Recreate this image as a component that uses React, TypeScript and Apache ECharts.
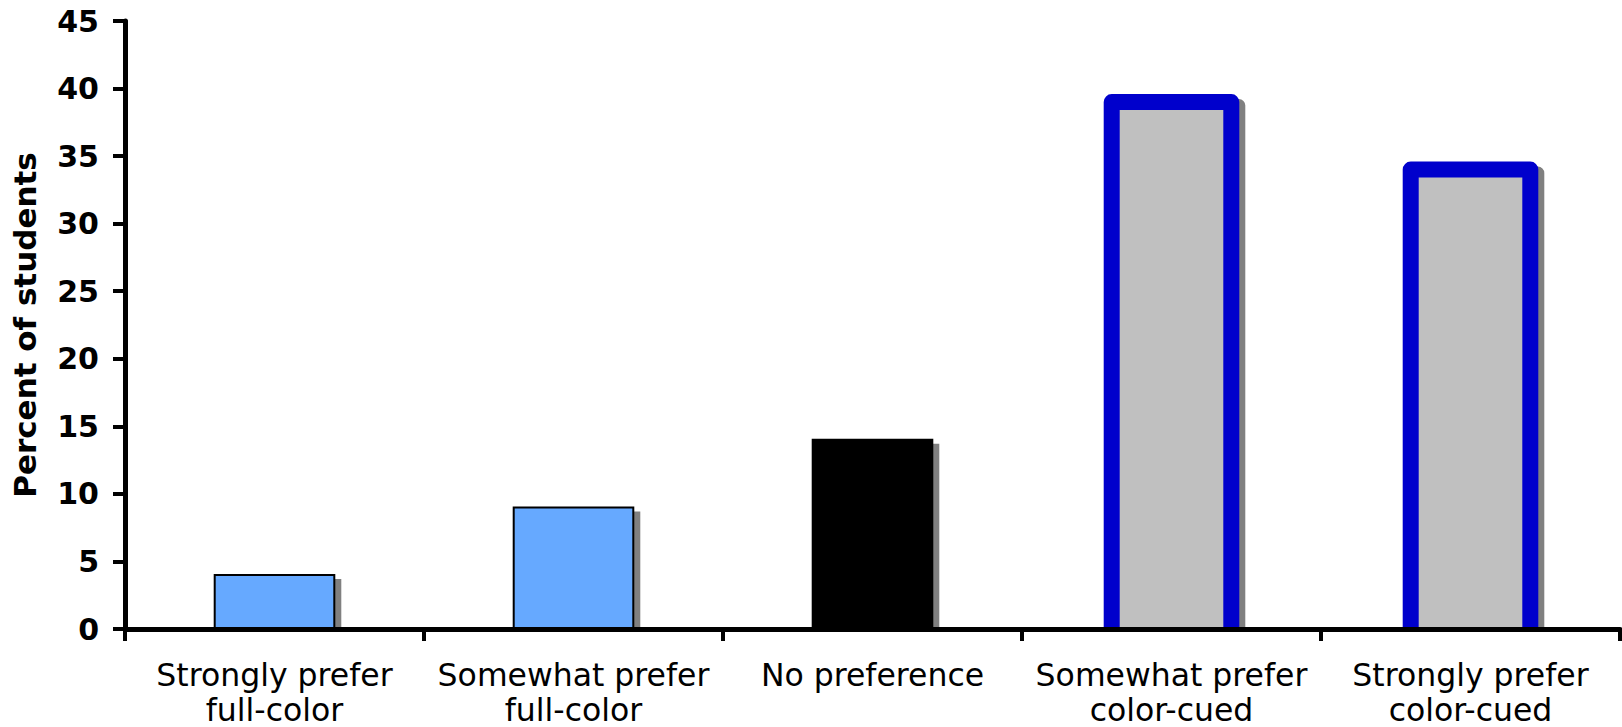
import React, { useEffect, useRef } from "react";
import * as echarts from "echarts";

const categories = [
  "Strongly prefer\nfull-color",
  "Somewhat prefer\nfull-color",
  "No preference",
  "Somewhat prefer\ncolor-cued",
  "Strongly prefer\ncolor-cued",
];
const values = [4, 9, 14, 39, 34];
const yTicks = { min: 0, max: 45, interval: 5 };
const yAxisTitle = "Percent of students";

// visual styles per bar (not data)
const barStyles = [
  { fill: "#66A9FF", stroke: "#000000", lineWidth: 2, round: false },
  { fill: "#66A9FF", stroke: "#000000", lineWidth: 2, round: false },
  { fill: "#000000", stroke: "#000000", lineWidth: 2, round: false },
  { fill: "#C0C0C0", stroke: "#0000CC", lineWidth: 16, round: true },
  { fill: "#C0C0C0", stroke: "#0000CC", lineWidth: 16, round: true },
];

const FONT = "'DejaVu Sans', Verdana, sans-serif";

export default function App() {
  const ref = useRef<HTMLDivElement>(null);
  useEffect(() => {
    if (!ref.current) return;
    const chart = echarts.init(ref.current, null, { renderer: "svg" });
    chart.setOption({
      animation: false,
      backgroundColor: "#ffffff",
      grid: { left: 125, right: 2, top: 21, bottom: 98, containLabel: false },
      xAxis: {
        type: "category",
        data: categories,
        z: 10,
        boundaryGap: true,
        axisLine: { show: true, lineStyle: { color: "#000", width: 5 } },
        axisTick: { show: true, length: 12, lineStyle: { color: "#000", width: 4 } },
        axisLabel: {
          color: "#000",
          fontFamily: FONT,
          fontSize: 31.5,
          lineHeight: 35,
          margin: 28,
          interval: 0,
        },
        splitLine: { show: false },
      },
      yAxis: {
        type: "value",
        min: yTicks.min,
        max: yTicks.max,
        interval: yTicks.interval,
        z: 10,
        name: yAxisTitle,
        nameLocation: "middle",
        nameGap: 85,
        nameRotate: 90,
        nameTextStyle: {
          color: "#000",
          fontFamily: FONT,
          fontSize: 31,
          fontWeight: "bold",
        },
        axisLine: { show: true, lineStyle: { color: "#000", width: 5 } },
        axisTick: { show: true, length: 12, lineStyle: { color: "#000", width: 4 } },
        axisLabel: {
          color: "#000",
          fontFamily: FONT,
          fontSize: 30,
          fontWeight: "bold",
          margin: 26,
        },
        splitLine: { show: false },
      },
      series: [
        {
          type: "custom",
          data: values.map((v, i) => [i, v]),
          encode: { x: 0, y: 1 },
          renderItem: (params: any, api: any) => {
            const i = params.dataIndex;
            const top = api.coord([api.value(0), api.value(1)]);
            const base = api.coord([api.value(0), 0]);
            const band = api.size([1, 0])[0];
            const w = band * 0.4;
            const x0 = top[0] - w / 2;
            const y0 = top[1];
            const yb = base[1];
            const st = barStyles[i];
            const h = st.lineWidth / 2;
            const sx = x0 - h + 6;
            const sy = y0 - h + 5;
            return {
              type: "group",
              children: [
                {
                  type: "rect",
                  shape: {
                    x: sx,
                    y: sy,
                    width: w + 2 * h,
                    height: Math.max(0, yb - sy),
                    r: st.round ? [h * 0.8, h * 0.8, 0, 0] : 0,
                  },
                  style: { fill: "#808080" },
                },
                {
                  type: "rect",
                  shape: { x: x0, y: y0, width: w, height: yb - y0 },
                  style: { fill: st.fill },
                },
                {
                  type: "polyline",
                  shape: {
                    points: [
                      [x0, yb],
                      [x0, y0],
                      [x0 + w, y0],
                      [x0 + w, yb],
                    ],
                  },
                  style: {
                    fill: "none",
                    stroke: st.stroke,
                    lineWidth: st.lineWidth,
                    lineJoin: st.round ? "round" : "miter",
                  },
                },
              ],
            };
          },
        },
      ],
    });
    return () => chart.dispose();
  }, []);
  return (
    <div
      ref={ref}
      style={{ position: "fixed", left: 0, top: 0, width: 1622, height: 727, background: "#fff" }}
    />
  );
}
